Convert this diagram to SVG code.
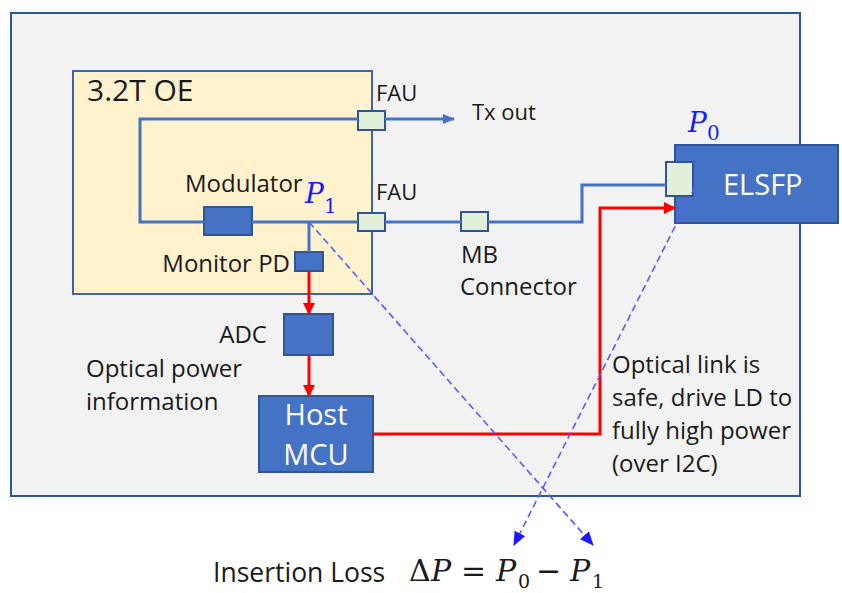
<svg xmlns="http://www.w3.org/2000/svg" width="842" height="593" viewBox="0 0 842 593">
<style>
.t{font-family:"Open Sans","Noto Sans","Liberation Sans",sans-serif;fill:#1a1a1a;font-size:24px}
.w{fill:#ffffff}
.m{font-family:"DejaVu Serif","Liberation Serif",serif;fill:#1a1a1a}
.mb{fill:#1a1aff}
.blk{fill:#4472c4;stroke:#2f5597;stroke-width:2}
.con{fill:#e2f0d9;stroke:#2f5597;stroke-width:2}
.opt{fill:none;stroke:#4472c4;stroke-width:3}
.red{fill:none;stroke:#ff0000;stroke-width:3}
.dash{fill:none;stroke:#5a5aff;stroke-width:1.6;stroke-dasharray:7 4}
</style>
<defs>
<marker id="ab" markerUnits="userSpaceOnUse" markerWidth="12" markerHeight="10" refX="11" refY="5" orient="auto"><path d="M0,0 L12,5 L0,10 Z" fill="#4472c4"/></marker>
<marker id="ar" markerUnits="userSpaceOnUse" markerWidth="12" markerHeight="12" refX="11" refY="6" orient="auto"><path d="M0,0 L12,6 L0,12 Z" fill="#ff0000"/></marker>
<marker id="ad" markerUnits="userSpaceOnUse" markerWidth="14" markerHeight="12" refX="13" refY="6" orient="auto"><path d="M0,0 L14,6 L0,12 Z" fill="#1a1aff"/></marker>
</defs>
<g id="frame"><rect x="11" y="13" width="789" height="483" fill="#f2f2f2" stroke="#2f5597" stroke-width="2"/></g>
<g id="oe"><rect x="73" y="71" width="299" height="223" fill="#fff2cc" stroke="#3b64ad" stroke-width="2"/><text class="t" x="87" y="101" style="font-size:30px">3.2T OE</text></g>
<g id="fau1"><rect class="con" x="358" y="111" width="27" height="19"/><text class="t" x="376" y="101" style="font-size:22px">FAU</text></g>
<g id="fau2"><rect class="con" x="358" y="213" width="27" height="18"/><text class="t" x="376" y="200" style="font-size:22px">FAU</text></g>
<g id="txout"><text class="t" x="472" y="120" style="font-size:22px">Tx out</text></g>
<g id="modulator"><rect class="blk" x="204" y="207" width="48" height="28"/><text class="t" x="185" y="192">Modulator</text></g>
<g id="monitorpd"><rect class="blk" x="295" y="252" width="28" height="19"/><text class="t" x="290" y="272" text-anchor="end">Monitor PD</text></g>
<g id="p1"><text class="m mb" x="305" y="203" style="font-size:28px;font-style:italic">P</text><text class="m mb" x="324" y="213" style="font-size:20px">1</text></g>
<g id="adc"><rect class="blk" x="284" y="314" width="49" height="41"/><text class="t" x="267" y="343" text-anchor="end">ADC</text></g>
<g id="opi"><text class="t" x="86" y="377">Optical power</text><text class="t" x="86" y="410">information</text></g>
<g id="mcu"><rect class="blk" x="259" y="396" width="114" height="76"/><text class="t w" x="316" y="425" text-anchor="middle" style="font-size:29px">Host</text><text class="t w" x="316" y="465" text-anchor="middle" style="font-size:29px">MCU</text></g>
<g id="mbconn"><rect class="con" x="461" y="212" width="27" height="19"/><text class="t" x="461" y="263">MB</text><text class="t" x="460" y="295">Connector</text></g>
<g id="elsfp"><rect class="blk" x="675" y="145" width="163" height="78"/><rect class="con" x="666" y="162" width="27" height="34"/><text class="t w" x="723" y="195" style="font-size:29px">ELSFP</text></g>
<g id="p0"><text class="m mb" x="688" y="132" style="font-size:28px;font-style:italic">P</text><text class="m mb" x="707" y="140" style="font-size:20px">0</text></g>
<g id="safe"><text class="t" x="612" y="373">Optical link is</text><text class="t" x="612" y="406">safe, drive LD to</text><text class="t" x="612" y="439">fully high power</text><text class="t" x="612" y="472">(over I2C)</text></g>
<g id="il"><text class="t" x="213" y="582" style="font-size:26.5px">Insertion Loss</text>
<text class="m" y="581" style="font-size:30px"><tspan x="409">Δ</tspan><tspan x="431" font-style="italic">P</tspan><tspan x="461">=</tspan><tspan x="496" font-style="italic">P</tspan><tspan x="536">−</tspan><tspan x="570" font-style="italic">P</tspan></text>
<text class="m" y="588" style="font-size:19px"><tspan x="518">0</tspan><tspan x="592">1</tspan></text></g>
<g id="connectors">
<path class="opt" d="M204,222 H140 V119 H358"/>
<path class="opt" d="M385,119 H454" marker-end="url(#ab)"/>
<path class="opt" d="M252,222 H358 M385,222 H461 M488,222 H582 V185 H666"/>
<path class="opt" d="M309,222 V252"/>
<path class="red" d="M309,271 V314" marker-end="url(#ar)"/>
<path class="red" d="M309,355 V396" marker-end="url(#ar)"/>
<path class="red" d="M373,434 H600 V208 H675" marker-end="url(#ar)"/>
<path class="dash" d="M309,222 L593,545" marker-end="url(#ad)"/>
<path class="dash" d="M695,187 L514,545" marker-end="url(#ad)"/>
</g>
</svg>
